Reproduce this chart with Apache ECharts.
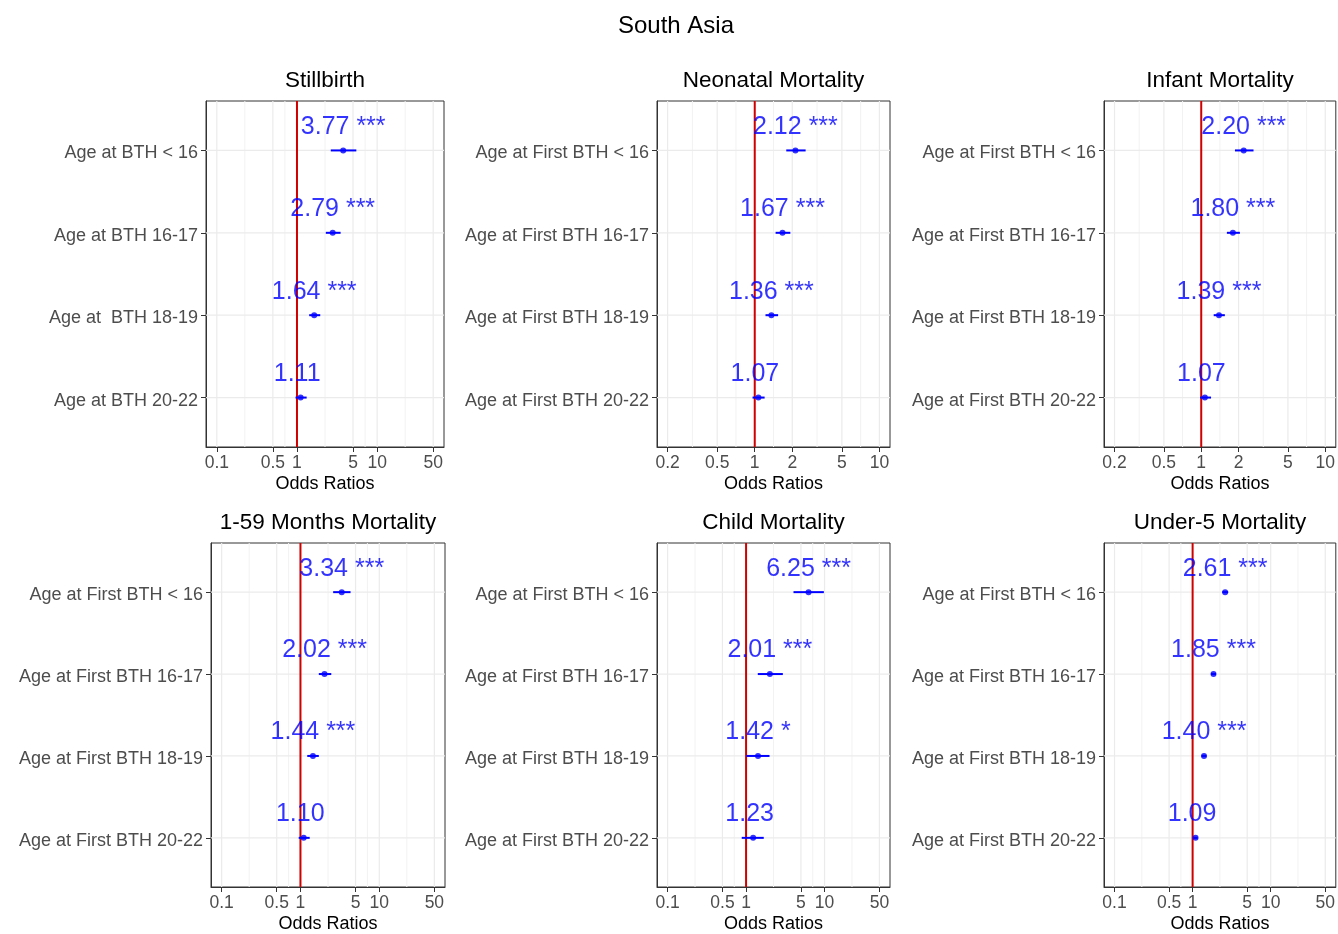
<!DOCTYPE html>
<html><head><meta charset="utf-8">
<script src="https://cdn.jsdelivr.net/npm/echarts@6/dist/echarts.min.js"></script>
<style>html,body{margin:0;padding:0;background:#fff}#c{width:1338px;height:934px}</style>
</head><body><div id="c"></div><script>
// ---------------- data ----------------
const suptitle = 'South Asia';
const panelTitles = ['Stillbirth', 'Neonatal Mortality', 'Infant Mortality', '1-59 Months Mortality', 'Child Mortality', 'Under-5 Mortality'];
const labelsStill = ['Age at BTH < 16', 'Age at BTH 16-17', 'Age at  BTH 18-19', 'Age at BTH 20-22'];
const labelsFirst = ['Age at First BTH < 16', 'Age at First BTH 16-17', 'Age at First BTH 18-19', 'Age at First BTH 20-22'];
const ticksWide = [0.1, 0.5, 1, 5, 10, 50];
const ticksNarrow = [0.2, 0.5, 1, 2, 5, 10];
const xAxisName = 'Odds Ratios';

const stillOR = [3.77, 2.79, 1.64, 1.11];
const stillLo = [2.64, 2.29, 1.42, 0.96];
const stillHi = [5.50, 3.50, 1.95, 1.32];
const stillSig = ['***', '***', '***', ''];

const neoOR = [2.12, 1.67, 1.36, 1.07];
const neoLo = [1.79, 1.47, 1.22, 0.96];
const neoHi = [2.56, 1.93, 1.54, 1.20];
const neoSig = ['***', '***', '***', ''];

const infOR = [2.20, 1.80, 1.39, 1.07];
const infLo = [1.87, 1.61, 1.26, 0.98];
const infHi = [2.64, 2.05, 1.55, 1.20];
const infSig = ['***', '***', '***', ''];

const m159OR = [3.34, 2.02, 1.44, 1.10];
const m159Lo = [2.60, 1.71, 1.22, 0.95];
const m159Hi = [4.32, 2.46, 1.71, 1.31];
const m159Sig = ['***', '***', '***', ''];

const childOR = [6.25, 2.01, 1.42, 1.23];
const childLo = [4.02, 1.41, 1.01, 0.88];
const childHi = [9.80, 2.94, 1.99, 1.68];
const childSig = ['***', '***', '*', ''];

const u5OR = [2.61, 1.85, 1.40, 1.09];
const u5Lo = [2.40, 1.72, 1.30, 1.02];
const u5Hi = [2.85, 1.99, 1.50, 1.16];
const u5Sig = ['***', '***', '***', ''];

// ---------------- layout ----------------
const rects = [
  {left: 206, top: 101, width: 238, height: 346},
  {left: 657, top: 101, width: 233, height: 346},
  {left: 1104, top: 101, width: 232, height: 346},
  {left: 211, top: 543, width: 234, height: 345},
  {left: 657, top: 543, width: 233, height: 345},
  {left: 1104, top: 543, width: 232, height: 345}
];
const FONT = "'Liberation Sans', Arial, Helvetica, sans-serif";

const panels = [
  {or: stillOR, lo: stillLo, hi: stillHi, sig: stillSig, labels: labelsStill, ticks: ticksWide},
  {or: neoOR, lo: neoLo, hi: neoHi, sig: neoSig, labels: labelsFirst, ticks: ticksNarrow},
  {or: infOR, lo: infLo, hi: infHi, sig: infSig, labels: labelsFirst, ticks: ticksNarrow},
  {or: m159OR, lo: m159Lo, hi: m159Hi, sig: m159Sig, labels: labelsFirst, ticks: ticksWide},
  {or: childOR, lo: childLo, hi: childHi, sig: childSig, labels: labelsFirst, ticks: ticksWide},
  {or: u5OR, lo: u5Lo, hi: u5Hi, sig: u5Sig, labels: labelsFirst, ticks: ticksWide}
];

const L = Math.log10;
const grids = [], xAxes = [], yAxes = [], series = [], titles = [];
const YMIN = 0.4, YMAX = 4.6;

titles.push({text: suptitle, left: 676, top: 14, textAlign: 'center', padding: 0,
  textStyle: {fontFamily: FONT, fontSize: 24, fontWeight: 'normal', color: '#000'}});

panels.forEach((p, i) => {
  const r = rects[i];
  const lt = p.ticks.map(L);
  const span = lt[lt.length - 1] - lt[0];
  const xmin = lt[0] - 0.05 * span, xmax = lt[lt.length - 1] + 0.05 * span;
  grids.push({left: r.left, top: r.top, width: r.width, height: r.height, show: true,
    borderColor: '#333', borderWidth: 1, backgroundColor: '#fff', containLabel: false});
  titles.push({text: panelTitles[i], left: r.left + r.width / 2, top: r.top - 32, textAlign: 'center', padding: 0,
    textStyle: {fontFamily: FONT, fontSize: 22.5, fontWeight: 'normal', color: '#000'}});
  xAxes.push({gridIndex: i, type: 'value', min: xmin, max: xmax,
    splitLine: {show: false},
    axisLine: {show: true, onZero: false, lineStyle: {color: '#333', width: 1}},
    axisTick: {show: true, length: 5, customValues: lt, lineStyle: {color: '#333', width: 1}},
    axisLabel: {customValues: lt, margin: 7, color: '#4D4D4D', fontSize: 17.5, fontFamily: FONT,
      formatter: v => { const t = p.ticks.find(tt => Math.abs(L(tt) - v) < 1e-6); return t === undefined ? '' : String(t); }},
    name: xAxisName, nameLocation: 'middle', nameGap: 28,
    nameTextStyle: {color: '#000', fontSize: 18, fontFamily: FONT}
  });
  yAxes.push({gridIndex: i, type: 'value', min: YMIN, max: YMAX, inverse: true,
    splitLine: {show: false},
    axisLine: {show: true, onZero: false, lineStyle: {color: '#333', width: 1}},
    axisTick: {show: true, length: 5, customValues: [1, 2, 3, 4], lineStyle: {color: '#333', width: 1}},
    axisLabel: {customValues: [1, 2, 3, 4], margin: 8, color: '#4D4D4D', fontSize: 18, fontFamily: FONT,
      verticalAlign: 'top', lineHeight: 6,
      formatter: v => p.labels[Math.round(v) - 1] || ''}
  });

  // grid lines: [value, kind] kind 0 = major vertical, 1 = minor vertical, 2 = horizontal
  const gl = [];
  lt.forEach(v => gl.push([v, 0]));
  for (let k = 0; k < lt.length - 1; k++) gl.push([(lt[k] + lt[k + 1]) / 2, 1]);
  [1, 2, 3, 4].forEach(v => gl.push([v, 2]));
  series.push({type: 'custom', xAxisIndex: i, yAxisIndex: i, z: 1, silent: true, clip: true,
    data: gl,
    renderItem: (params, api) => {
      const v = api.value(0), kind = api.value(1);
      let a, b;
      if (kind === 2) { a = api.coord([xmin, v]); b = api.coord([xmax, v]); }
      else { a = api.coord([v, YMIN]); b = api.coord([v, YMAX]); }
      return {type: 'line', shape: {x1: a[0], y1: a[1], x2: b[0], y2: b[1]},
        style: {stroke: kind === 1 ? '#F2F2F2' : '#EBEBEB', lineWidth: kind === 1 ? 1 : 1.2}};
    },
    encode: {x: 0}
  });
  // reference line at OR = 1
  series.push({type: 'custom', xAxisIndex: i, yAxisIndex: i, z: 3, silent: true,
    data: [[0]],
    renderItem: (params, api) => {
      const a = api.coord([api.value(0), YMIN]), b = api.coord([api.value(0), YMAX]);
      return {type: 'line', shape: {x1: a[0], y1: a[1], x2: b[0], y2: b[1]},
        style: {stroke: '#D00000', lineWidth: 2}};
    },
    encode: {x: 0}
  });
  // confidence intervals
  series.push({type: 'custom', xAxisIndex: i, yAxisIndex: i, z: 4, silent: true,
    data: p.or.map((o, k) => [L(p.lo[k]), L(p.hi[k]), k + 1]),
    renderItem: (params, api) => {
      const a = api.coord([api.value(0), api.value(2)]), b = api.coord([api.value(1), api.value(2)]);
      return {type: 'line', shape: {x1: a[0], y1: a[1], x2: b[0], y2: b[1]},
        style: {stroke: '#0000FF', lineWidth: 2}};
    },
    encode: {x: [0, 1], y: 2}
  });
  // point estimates with labels
  series.push({type: 'scatter', xAxisIndex: i, yAxisIndex: i, z: 5, silent: true,
    symbol: 'circle', symbolSize: 6, itemStyle: {color: '#0000FF'},
    data: p.or.map((o, k) => [L(o), k + 1]),
    label: {show: true, position: 'top', distance: 8,
      color: '#0000FF', fontSize: 25, fontFamily: FONT,
      formatter: prm => p.or[prm.dataIndex].toFixed(2) + ' ' + p.sig[prm.dataIndex]},
    labelLayout: {hideOverlap: false}
  });
});

const chart = echarts.init(document.getElementById('c'), null, {renderer: 'canvas'});
chart.setOption({
  animation: false,
  backgroundColor: '#fff',
  title: titles,
  grid: grids,
  xAxis: xAxes,
  yAxis: yAxes,
  series: series
});
</script></body></html>
